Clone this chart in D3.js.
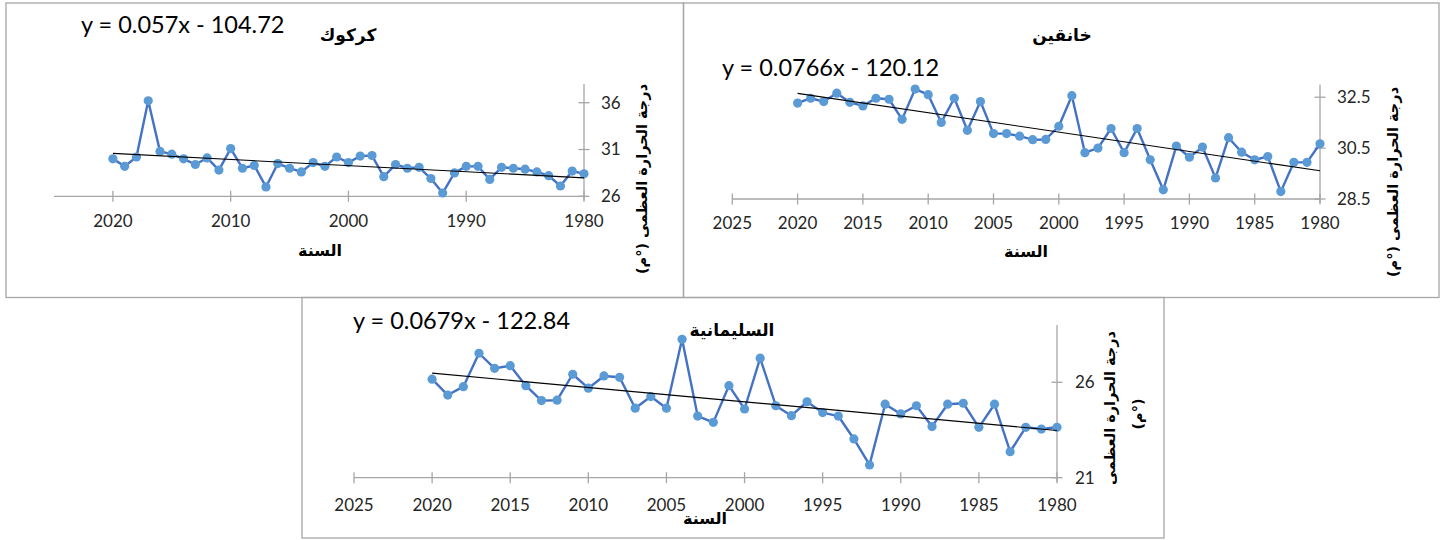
<!DOCTYPE html>
<html>
<head>
<meta charset="utf-8">
<script src="https://cdn.jsdelivr.net/npm/d3@7/dist/d3.min.js"></script>
<style>
  html, body { margin: 0; padding: 0; background: #fff; }
  svg { display: block; }
  .num { font-family: Lato, "Open Sans", "Liberation Sans", sans-serif; fill: #262626; }
  .ar { font-family: "DejaVu Sans", "Noto Sans", sans-serif; font-weight: bold; fill: #000; }
</style>
</head>
<body>
<svg id="chart" width="1444" height="540"></svg>
<script>
// ---------------- DATA ----------------
const years = [2020, 2019, 2018, 2017, 2016, 2015, 2014, 2013, 2012, 2011,
               2010, 2009, 2008, 2007, 2006, 2005, 2004, 2003, 2002, 2001,
               2000, 1999, 1998, 1997, 1996, 1995, 1994, 1993, 1992, 1991,
               1990, 1989, 1988, 1987, 1986, 1985, 1984, 1983, 1982, 1981, 1980];

const kirkukValues = [30.0, 29.2, 30.2, 36.2, 30.8, 30.5, 30.0, 29.4, 30.1, 28.8,
                      31.1, 29.0, 29.3, 27.0, 29.5, 29.0, 28.6, 29.6, 29.2, 30.2,
                      29.6, 30.3, 30.35, 28.1, 29.4, 29.0, 29.1, 27.9, 26.35, 28.5,
                      29.2, 29.2, 27.8, 29.1, 29.0, 28.9, 28.6, 28.2, 27.1, 28.7, 28.4];

const khanaqinValues = [32.27, 32.46, 32.33, 32.66, 32.3, 32.16, 32.46, 32.42, 31.63, 32.82,
                        32.6, 31.51, 32.46, 31.2, 32.33, 31.07, 31.07, 30.97, 30.83, 30.84,
                        31.36, 32.56, 30.32, 30.5, 31.27, 30.32, 31.27, 30.04, 28.86, 30.58,
                        30.14, 30.54, 29.33, 30.91, 30.34, 30.04, 30.17, 28.79, 29.94, 29.94, 30.67];

const sulaymaniyahValues = [26.16, 25.33, 25.77, 27.52, 26.73, 26.87, 25.82, 25.04, 25.06, 26.42,
                            25.69, 26.33, 26.26, 24.64, 25.25, 24.64, 28.25, 24.23, 23.9, 25.82,
                            24.6, 27.26, 24.77, 24.25, 24.98, 24.41, 24.23, 23.03, 21.67, 24.85,
                            24.34, 24.77, 23.68, 24.85, 24.9, 23.64, 24.85, 22.36, 23.64, 23.55, 23.64];

const kirkukXTicks = [2020, 2010, 2000, 1990, 1980];
const kirkukYTicks = [26, 31, 36];
const khanaqinXTicks = [2025, 2020, 2015, 2010, 2005, 2000, 1995, 1990, 1985, 1980];
const khanaqinYTicks = [28.5, 30.5, 32.5];
const sulaymaniyahXTicks = [2025, 2020, 2015, 2010, 2005, 2000, 1995, 1990, 1985, 1980];
const sulaymaniyahYTicks = [21, 26];

const titles = ["كركوك", "خانقين", "السليمانية"];
const equations = ["y = 0.057x - 104.72", "y = 0.0766x - 120.12", "y = 0.0679x - 122.84"];
const xTitle = "السنة";
const yTitle = "درجة الحرارة العظمى (°م)";
const yTitleLine1 = "درجة الحرارة العظمى";
const yTitleLine2 = "(°م)";

// ---------------- LAYOUT ----------------
const svg = d3.select("#chart");
svg.append("rect").attr("width", 1444).attr("height", 540).attr("fill", "#fff");

const AXIS = "#a6a6a6";
const LINE = "#4472c4";
const MARK = "#5b9bd5";

const panels = [
  { box: [6, 3, 683.5, 297.5], values: kirkukValues, xTicks: kirkukXTicks, yTicks: kirkukYTicks,
    xDom: [2025, 1980], xRange: [54, 584], yDom: [26, 38], yRange: [196.3, 84],
    title: titles[0], titlePos: [348, 41], eq: equations[0], eqPos: [81, 33],
    xTitlePos: [320, 256], yTitle: [yTitle], yTitlePos: [[642, 179]],
    xLabY: 226.5, yLabX: 601 },
  { box: [683.5, 3, 1439, 297.5], values: khanaqinValues, xTicks: khanaqinXTicks, yTicks: khanaqinYTicks,
    xDom: [2025, 1980], xRange: [732.3, 1320], yDom: [28.5, 33], yRange: [199, 84.5],
    title: titles[1], titlePos: [1062, 41], eq: equations[1], eqPos: [722, 76],
    xTitlePos: [1026, 257], yTitle: [yTitle], yTitlePos: [[1393, 182]],
    xLabY: 228.5, yLabX: 1337 },
  { box: [302, 297.5, 1164, 538], values: sulaymaniyahValues, xTicks: sulaymaniyahXTicks, yTicks: sulaymaniyahYTicks,
    xDom: [2025, 1980], xRange: [354, 1057], yDom: [21, 29], yRange: [477.7, 325],
    title: titles[2], titlePos: [732, 336], eq: equations[2], eqPos: [353, 328.5],
    xTitlePos: [705, 524], yTitle: [yTitleLine1, yTitleLine2], yTitlePos: [[1110, 408], [1138, 414]],
    xLabY: 510.5, yLabX: 1075 }
];

panels.forEach(p => {
  const g = svg.append("g");
  const [x0, y0, x1, y1] = p.box;
  g.append("rect").attr("x", x0).attr("y", y0).attr("width", x1 - x0).attr("height", y1 - y0)
    .attr("fill", "none").attr("stroke", AXIS).attr("stroke-width", 1.3);

  const x = d3.scaleLinear().domain(p.xDom).range(p.xRange);
  const y = d3.scaleLinear().domain(p.yDom).range(p.yRange);

  // x axis
  const yBase = y(p.yDom[0]);
  g.append("line").attr("x1", p.xRange[0]).attr("x2", p.xRange[1])
    .attr("y1", yBase).attr("y2", yBase).attr("stroke", AXIS).attr("stroke-width", 1.3);
  g.selectAll(".xt").data(p.xTicks).enter().append("line")
    .attr("x1", d => x(d)).attr("x2", d => x(d))
    .attr("y1", yBase - 5.5).attr("y2", yBase + 5.5)
    .attr("stroke", AXIS).attr("stroke-width", 1.3);
  g.selectAll(".xl").data(p.xTicks).enter().append("text")
    .attr("class", "num").attr("x", d => x(d)).attr("y", p.xLabY)
    .attr("text-anchor", "middle").attr("font-size", 17).text(d => d);

  // y axis (right side)
  const xAxis = x(p.xDom[1]);
  g.append("line").attr("x1", xAxis).attr("x2", xAxis)
    .attr("y1", y(p.yDom[1])).attr("y2", yBase + 4)
    .attr("stroke", AXIS).attr("stroke-width", 1.3);
  g.selectAll(".yt").data(p.yTicks).enter().append("line")
    .attr("x1", xAxis - 5.5).attr("x2", xAxis + 5.5)
    .attr("y1", d => y(d)).attr("y2", d => y(d))
    .attr("stroke", AXIS).attr("stroke-width", 1.3);
  g.selectAll(".yl").data(p.yTicks).enter().append("text")
    .attr("class", "num").attr("x", p.yLabX).attr("y", d => y(d))
    .attr("dy", "0.35em").attr("font-size", 17).text(d => d);

  // series
  const pts = years.map((yr, i) => ({ yr, v: p.values[i] }));
  g.append("path").datum(pts)
    .attr("d", d3.line().x(d => x(d.yr)).y(d => y(d.v)))
    .attr("fill", "none").attr("stroke", LINE).attr("stroke-width", 2.4)
    .attr("stroke-linejoin", "round");
  g.selectAll(".pt").data(pts).enter().append("circle")
    .attr("cx", d => x(d.yr)).attr("cy", d => y(d.v)).attr("r", 4.6)
    .attr("fill", MARK);

  // linear trendline (least squares over data)
  const mx = d3.mean(pts, d => d.yr), my = d3.mean(pts, d => d.v);
  const slope = d3.sum(pts, d => (d.yr - mx) * (d.v - my)) / d3.sum(pts, d => (d.yr - mx) ** 2);
  const icpt = my - slope * mx;
  const ends = d3.extent(years);
  g.append("line")
    .attr("x1", x(ends[1])).attr("y1", y(slope * ends[1] + icpt))
    .attr("x2", x(ends[0])).attr("y2", y(slope * ends[0] + icpt))
    .attr("stroke", "#000").attr("stroke-width", 1.1);

  // texts
  g.append("text").attr("class", "ar").attr("x", p.titlePos[0]).attr("y", p.titlePos[1])
    .attr("text-anchor", "middle").attr("font-size", 17).attr("direction", "rtl").text(p.title);
  g.append("text").attr("class", "num").attr("x", p.eqPos[0]).attr("y", p.eqPos[1])
    .attr("font-size", 23.5).style("fill", "#000").text(p.eq);
  g.append("text").attr("class", "ar").attr("x", p.xTitlePos[0]).attr("y", p.xTitlePos[1])
    .attr("text-anchor", "middle").attr("font-size", 16).attr("direction", "rtl").text(xTitle);
  p.yTitle.forEach((t, i) => {
    const [tx, ty] = p.yTitlePos[i];
    g.append("text").attr("class", "ar")
      .attr("transform", `translate(${tx},${ty}) rotate(-90)`)
      .attr("text-anchor", "middle").attr("dy", "0.35em").attr("font-size", 14.5)
      .attr("direction", "rtl").text(t);
  });
});
</script>
</body>
</html>
